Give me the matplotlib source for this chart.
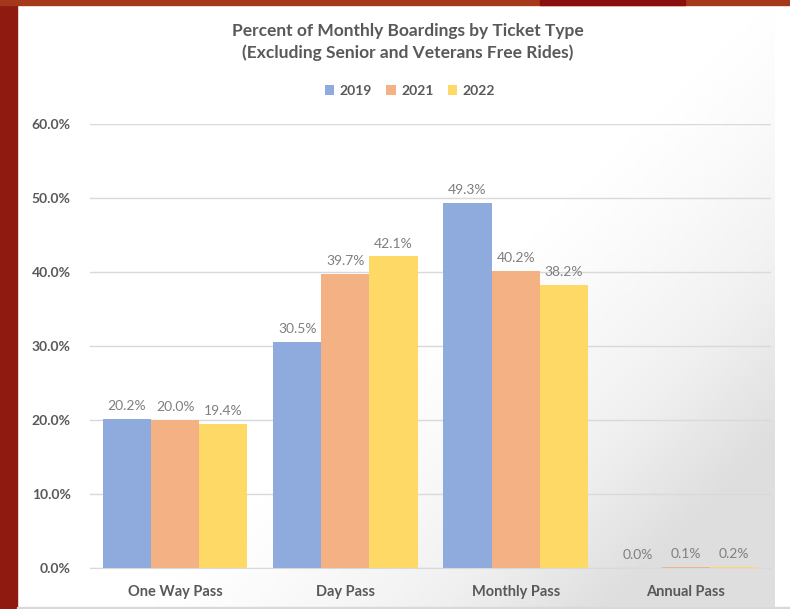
import numpy as np
import matplotlib.pyplot as plt
from matplotlib.patches import Rectangle

plt.rcParams['font.family'] = ['Lato', 'DejaVu Sans']

categories = ['One Way Pass', 'Day Pass', 'Monthly Pass', 'Annual Pass']
years = ['2019', '2021', '2022']
v2019 = [20.2, 30.5, 49.3, 0.0]
v2021 = [20.0, 39.7, 40.2, 0.1]
v2022 = [19.4, 42.1, 38.2, 0.2]
colors = ['#8FAADC', '#F4B183', '#FFD966']

W, H = 790, 609
fig = plt.figure(figsize=(W / 100, H / 100), dpi=100)
fig.patch.set_facecolor('white')

# slide background strips
fig.patches.append(Rectangle((0, 0), 17 / W, 1, transform=fig.transFigure,
                             color='#8E1A10', zorder=0))
fig.patches.append(Rectangle((0, 1 - 5 / H), 1, 5 / H, transform=fig.transFigure,
                             color='#A5381A', zorder=0))
fig.patches.append(Rectangle((540 / W, 1 - 5 / H), 145 / W, 5 / H,
                             transform=fig.transFigure, color='#8A1010', zorder=1))
fig.patches.append(Rectangle((17 / W, 0), 1, 2 / H, transform=fig.transFigure,
                             color='#D9D9D9', zorder=0))

ax = fig.add_axes([90 / W, (H - 568) / H, 681 / W, 444 / H])
ax.set_facecolor('none')

# soft shading toward bottom right
gx, gy = np.meshgrid(np.linspace(0, 1, 200), np.linspace(0, 1, 200))
shade = np.clip((gx - 0.6) * 1.6 + (0.55 - gy) * 1.3, 0, 1) ** 1.3
bg = fig.add_axes([17 / W, 2 / H, (775 - 17) / W, (604 - 5) / H], zorder=-1)
bg.imshow(shade, cmap='Greys', vmin=0, vmax=4.5, origin='lower', aspect='auto',
          extent=[0, 1, 0, 1])
bg.axis('off')

x = np.arange(len(categories))
bw = 0.283
series = [v2019, v2021, v2022]
for i, (vals, c, yr) in enumerate(zip(series, colors, years)):
    pos = x + (i - 1) * bw
    ax.bar(pos, vals, bw, color=c, label=yr, zorder=2)
    for p, v in zip(pos, vals):
        ax.annotate(f'{v:.1f}%', (p, v), xytext=(0, 5), textcoords='offset points',
                    ha='center', va='bottom', fontsize=10, color='#7F7F7F')

ax.set_xlim(-0.5, 3.5)
ax.set_ylim(0, 60)
ax.set_yticks(np.arange(0, 61, 10))
ax.set_yticklabels([f'{t:.1f}%' for t in range(0, 61, 10)])
ax.set_xticks(x)
ax.set_xticklabels(categories)
ax.grid(axis='y', color='#D9D9D9', linewidth=1, zorder=0)
ax.set_axisbelow(True)
for s in ['top', 'right', 'left']:
    ax.spines[s].set_visible(False)
ax.spines['bottom'].set_color('#D9D9D9')
ax.tick_params(length=0)
ax.tick_params(axis='y', pad=14, labelsize=10, labelcolor='#595959')
ax.tick_params(axis='x', pad=12, labelsize=10.5, labelcolor='#595959')
for lbl in ax.get_yticklabels() + ax.get_xticklabels():
    lbl.set_fontweight('bold')

fig.text(408 / W, 1 - 42 / H,
         'Percent of Monthly Boardings by Ticket Type\n(Excluding Senior and Veterans Free Rides)',
         ha='center', va='center', fontsize=12.5, fontweight='bold', color='#595959',
         linespacing=1.45)

leg = fig.legend(loc='center', bbox_to_anchor=(410 / W, 1 - 91 / H), ncol=3,
                 frameon=False, handlelength=0.7, handleheight=0.7,
                 handletextpad=0.4, columnspacing=1.0, fontsize=10)
for t in leg.get_texts():
    t.set_color('#595959')
    t.set_fontweight('bold')

fig.savefig('out.png', dpi=100)
